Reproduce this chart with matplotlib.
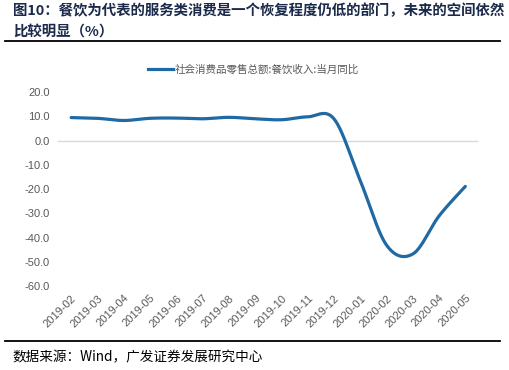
import numpy as np
import matplotlib
matplotlib.use("Agg")
import matplotlib.pyplot as plt
from matplotlib.lines import Line2D

plt.rcParams['font.family'] = ['Noto Sans CJK SC', 'DejaVu Sans']

# data
months = ["2019-02", "2019-03", "2019-04", "2019-05", "2019-06", "2019-07",
          "2019-08", "2019-09", "2019-10", "2019-11", "2019-12", "2020-01",
          "2020-02", "2020-03", "2020-04", "2020-05"]
catering_yoy = [9.5, 9.2, 8.3, 9.2, 9.3, 9.0, 9.6, 9.0, 8.6, 9.8, 9.0, -16.5,
                -43.1, -46.8, -31.1, -18.9]
y_ticks = [20, 10, 0, -10, -20, -30, -40, -50, -60]

title = "图10：餐饮为代表的服务类消费是一个恢复程度仍低的部门，未来的空间依然\n比较明显（%）"
legend_label = "社会消费品零售总额:餐饮收入:当月同比"
source = "数据来源：Wind，广发证券发展研究中心"

LINE_COLOR = "#1f69a4"
TITLE_COLOR = "#1b2a4a"
GRAY = "#595959"


def smooth_curve(xs, ys, n=40):
    # excel-like smoothed line: cubic bezier with catmull-rom control points
    pts = np.column_stack([xs, ys]).astype(float)
    out = []
    for i in range(len(pts) - 1):
        p0 = pts[i]
        p3 = pts[i + 1]
        prev = pts[i - 1] if i > 0 else pts[i]
        nxt = pts[i + 2] if i + 2 < len(pts) else pts[i + 1]
        p1 = p0 + (p3 - prev) / 6.0
        p2 = p3 - (nxt - p0) / 6.0
        t = np.linspace(0, 1, n)[:, None]
        seg = ((1 - t) ** 3) * p0 + 3 * ((1 - t) ** 2) * t * p1 \
            + 3 * (1 - t) * t ** 2 * p2 + t ** 3 * p3
        out.append(seg if i == 0 else seg[1:])
    out = np.vstack(out)
    return out[:, 0], out[:, 1]


fig = plt.figure(figsize=(5.09, 3.70), dpi=100)
ax = fig.add_axes([0.114, 0.227, 0.826, 0.524])

x = np.arange(len(months))
sx, sy = smooth_curve(x, catering_yoy)
ax.plot(sx, sy, color=LINE_COLOR, lw=2.3, solid_capstyle='round')

ax.set_xlim(-0.5, len(months) - 0.5)
ax.set_ylim(-60, 20)
ax.axhline(0, color="#d9d9d9", lw=1.0, zorder=0)

ax.set_yticks(y_ticks)
ax.set_yticklabels([f"{v:.1f}" for v in y_ticks], fontfamily="Liberation Sans",
                   fontsize=8, color=GRAY)
ax.set_xticks(x)
ax.set_xticklabels(months, rotation=45, ha='right', va='top', rotation_mode='anchor',
                   fontfamily="Liberation Sans", fontsize=8, color=GRAY)
ax.tick_params(axis='both', length=0)
ax.tick_params(axis='y', pad=6)
ax.tick_params(axis='x', pad=5)
for s in ax.spines.values():
    s.set_visible(False)

# legend at top
handle = Line2D([], [], color=LINE_COLOR, lw=2.3)
fig.legend([handle], [legend_label], loc='center', bbox_to_anchor=(0.498, 0.813),
           frameon=False, fontsize=7.6, handlelength=2.4, handletextpad=0.15,
           labelcolor=GRAY)

# title and source with rules
fig.text(0.025, 0.99, title, ha='left', va='top', fontsize=10.4, fontweight='bold',
         color=TITLE_COLOR, linespacing=1.6)
fig.add_artist(Line2D([0.01, 0.982], [0.889, 0.889], color='black', lw=1.3))
fig.add_artist(Line2D([0.01, 0.982], [0.079, 0.079], color='black', lw=1.3))
fig.text(0.025, 0.035, source, ha='left', va='center', fontsize=9.8, color='black')

fig.savefig("out.png", dpi=100)
